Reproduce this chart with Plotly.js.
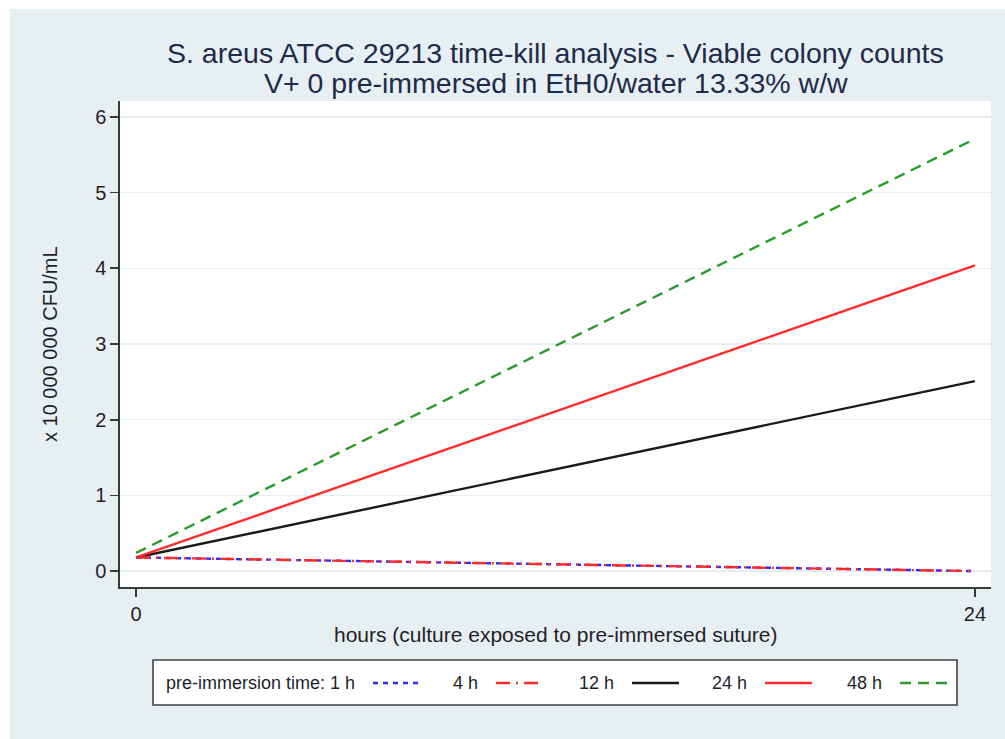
<!DOCTYPE html>
<html>
<head>
<meta charset="utf-8">
<script src="https://cdn.plot.ly/plotly-3.0.1.min.js"></script>
<style>
  html, body { margin: 0; padding: 0; background: #ffffff; }
  #chart { position: absolute; left: 10px; top: 9px; width: 995px; height: 730px; }
</style>
</head>
<body>
<div id="chart"></div>
<script>
// ---- data ----
const hours = [0, 24];
const seriesNames = ["1 h", "4 h", "12 h", "24 h", "48 h"];
const v1h  = [0.18, 0.00];
const v4h  = [0.18, 0.00];
const v12h = [0.18, 2.51];
const v24h = [0.18, 4.04];
const v48h = [0.24, 5.71];
const seriesValues = [v1h, v4h, v12h, v24h, v48h];
const yTicks = [0, 1, 2, 3, 4, 5, 6];
const xTicks = [0, 24];
const titleLines = [
  "S. areus ATCC 29213 time-kill analysis - Viable colony counts",
  "V+ 0 pre-immersed in EtH0/water 13.33% w/w"
];
const xTitle = "hours (culture exposed to pre-immersed suture)";
const yTitle = "x 10 000 000 CFU/mL";
const legendPrefix = "pre-immersion time: ";

// ---- styles ----
const styles = [
  {color: "#2b2bff", dash: "5px,5px"},
  {color: "#ff2b2b", dash: "14px,6px,2px,6px"},
  {color: "#1a1a1a", dash: "solid"},
  {color: "#ff2b2b", dash: "solid"},
  {color: "#2e9a2e", dash: "11px,7px"}
];
const FONT = "Liberation Sans, Arial, Helvetica, sans-serif";
const TXT = "#1f1f2a";

// draw order: 12h, 24h, 48h, then 1h, 4h on top
const order = [2, 3, 4, 0, 1];
const traces = order.map(i => ({
  x: hours, y: seriesValues[i], type: "scatter", mode: "lines",
  name: seriesNames[i], showlegend: false, hoverinfo: "x+y+name",
  line: {color: styles[i].color, dash: styles[i].dash, width: 2.4}
}));

// plot area in div px: left 110, top 92, width 871, height 486
const plotL = 110, plotT = 92, plotW = 871, plotH = 486;
const px2x = p => (p - 10 - plotL) / plotW;          // page x -> paper x
const py2y = p => 1 - (p - 9 - plotT) / plotH;       // page y -> paper y

const annotations = [];
const shapes = [];

// titles
annotations.push({text: titleLines[0], xref: "paper", yref: "paper", x: 0.5, y: py2y(53),
  xanchor: "center", yanchor: "middle", showarrow: false, font: {family: FONT, size: 28.5, color: "#1e2b4a"}});
annotations.push({text: titleLines[1], xref: "paper", yref: "paper", x: 0.5, y: py2y(83),
  xanchor: "center", yanchor: "middle", showarrow: false, font: {family: FONT, size: 28.5, color: "#1e2b4a"}});
// axis titles
annotations.push({text: xTitle, xref: "paper", yref: "paper", x: 0.5, y: py2y(634),
  xanchor: "center", yanchor: "middle", showarrow: false, font: {family: FONT, size: 21, color: TXT}});
annotations.push({text: yTitle, xref: "paper", yref: "paper", x: px2x(50), y: 0.5, textangle: -90,
  xanchor: "center", yanchor: "middle", showarrow: false, font: {family: FONT, size: 20, color: TXT}});

// custom legend (key on the right of its label, like the original)
shapes.push({type: "rect", xref: "paper", yref: "paper", x0: px2x(153), x1: px2x(957),
  y0: py2y(660), y1: py2y(705), fillcolor: "#ffffff", line: {color: "#404040", width: 1.6}, layer: "below"});
const keyStart = [373, 496, 632, 765, 900];
const keyLen = 47;
const legY = py2y(683);
seriesNames.forEach((n, i) => {
  annotations.push({text: (i === 0 ? legendPrefix : "") + n, xref: "paper", yref: "paper",
    x: px2x(keyStart[i] - 16), y: legY, xanchor: "right", yanchor: "middle", showarrow: false,
    font: {family: FONT, size: 18, color: TXT}});
  shapes.push({type: "line", xref: "paper", yref: "paper", x0: px2x(keyStart[i]), x1: px2x(keyStart[i] + keyLen),
    y0: legY, y1: legY, line: {color: styles[i].color, dash: styles[i].dash, width: 2.4}});
});

const layout = {
  width: 995, height: 730,
  paper_bgcolor: "#e8eff2", plot_bgcolor: "#ffffff",
  margin: {l: plotL, r: 995 - plotL - plotW, t: plotT, b: 730 - plotT - plotH, pad: 0},
  showlegend: false,
  font: {family: FONT, color: TXT},
  xaxis: {
    range: [-0.46, 24.46], tickmode: "array", tickvals: xTicks, ticktext: xTicks.map(String),
    showgrid: false, zeroline: false, showline: true, linecolor: "#3a3a3a", linewidth: 1.6,
    ticks: "outside", ticklen: 8, tickwidth: 1.6, tickcolor: "#3a3a3a",
    tickfont: {family: FONT, size: 20, color: TXT}, mirror: false
  },
  yaxis: {
    range: [-0.21, 6.21], tickmode: "array", tickvals: yTicks, ticktext: yTicks.map(String),
    showgrid: true, gridcolor: "#e6eef1", gridwidth: 1.2, zeroline: false,
    showline: true, linecolor: "#3a3a3a", linewidth: 1.6,
    ticks: "outside", ticklen: 8, tickwidth: 1.6, tickcolor: "#3a3a3a",
    tickfont: {family: FONT, size: 20, color: TXT}
  },
  annotations: annotations,
  shapes: shapes
};

Plotly.newPlot("chart", traces, layout, {displayModeBar: false, staticPlot: true});
</script>
</body>
</html>
